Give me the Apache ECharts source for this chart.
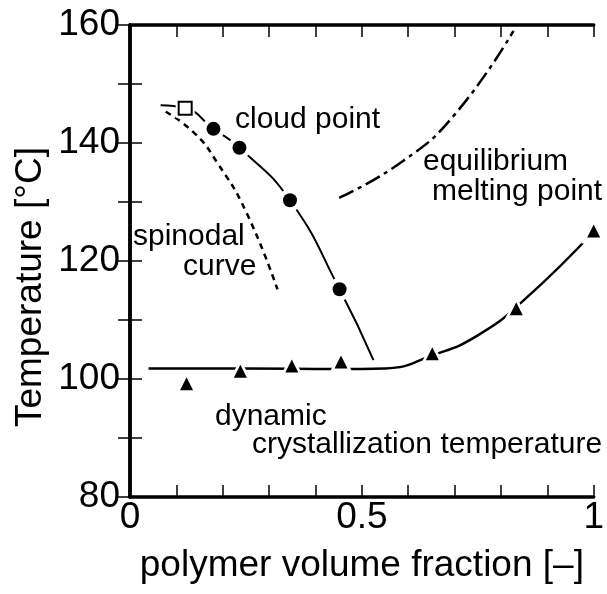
<!DOCTYPE html>
<html>
<head>
<meta charset="utf-8">
<script src="https://cdn.jsdelivr.net/npm/echarts@6/dist/echarts.min.js"></script>
<style>
html,body{margin:0;padding:0;background:#fff;}
#chart{width:607px;height:594px;}
</style>
</head>
<body>
<div id="chart"></div>
<script>
// ---- data ----
const squareX = [0.119];
const squareY = [145.9];
const cloudX = [0.18, 0.236, 0.345, 0.452];
const cloudY = [142.4, 139.2, 130.3, 115.2];
const cloudCurveX = [0.066, 0.119, 0.18, 0.236, 0.345, 0.452, 0.525];
const cloudCurveY = [146.4, 145.9, 142.4, 139.2, 130.3, 115.2, 103.2];
const spinodalX = [0.077, 0.14, 0.187, 0.25, 0.318];
const spinodalY = [145.3, 141.6, 136.8, 128.4, 115.2];
const meltingX = [0.451, 0.588, 0.701, 0.827];
const meltingY = [130.7, 136.9, 144.9, 159.0];
const crystX = [0.122, 0.238, 0.349, 0.455, 0.652, 0.833, 1.0];
const crystY = [99.2, 101.3, 102.2, 102.9, 104.3, 111.9, 125.1];
const crystCurveX = [0.04, 0.25, 0.45, 0.55, 0.652, 0.75, 0.85, 1.0];
const crystCurveY = [101.8, 101.8, 101.7, 101.8, 104.0, 107.4, 113.4, 125.0];
const xTickLabels = ['0', '0.5', '1'];
const yTickLabels = ['80', '100', '120', '140', '160'];
const xTitle = 'polymer volume fraction [\u2013]';
const yTitle = 'Temperature [\u00B0C]';

const pairs = (xs, ys) => xs.map((x, i) => [x, ys[i]]);
const FONT = "'Liberation Sans', Arial, Helvetica, sans-serif";

const chart = echarts.init(document.getElementById('chart'), null, {renderer: 'canvas'});

function fmtX(v) {
  const s = String(Math.round(v * 10) / 10);
  return xTickLabels.indexOf(s) >= 0 ? s : '';
}
function fmtY(v) {
  const s = String(Math.round(v));
  return yTickLabels.indexOf(s) >= 0 ? s : '';
}

const axisLine = {show: true, lineStyle: {color: '#000', width: 3.5}};
const axisTick = {show: true, inside: true, length: 12, lineStyle: {color: '#000', width: 1.5}};

function textEl(t, x, y, size) {
  return {type: 'text', x: x, y: y, style: {text: t, font: size + 'px ' + FONT, fill: '#000', align: 'left', verticalAlign: 'middle'}};
}

const option = {
  animation: false,
  backgroundColor: '#fff',
  grid: {left: 130, right: 3, top: 25, bottom: 97},
  xAxis: [
    {type: 'value', min: 0, max: 1, interval: 0.1, position: 'bottom',
     axisLine: axisLine, axisTick: axisTick, splitLine: {show: false},
     axisLabel: {formatter: fmtX, fontSize: 37, fontFamily: FONT, color: '#000', margin: 2, hideOverlap: false, showMinLabel: true, showMaxLabel: true},
     name: xTitle, nameLocation: 'middle', nameGap: 50,
     nameTextStyle: {fontSize: 37, fontFamily: FONT, color: '#000'}},
    {type: 'value', min: 0, max: 1, interval: 0.1, position: 'top',
     axisLine: axisLine, axisTick: axisTick, splitLine: {show: false}, axisLabel: {show: false}}
  ],
  yAxis: [
    {type: 'value', min: 80, max: 160, interval: 10, position: 'left',
     axisLine: axisLine, axisTick: axisTick, splitLine: {show: false},
     axisLabel: {formatter: fmtY, fontSize: 37, fontFamily: FONT, color: '#000', margin: 10, hideOverlap: false, showMinLabel: true, showMaxLabel: true}},
    {type: 'value', min: 80, max: 160, interval: 10, position: 'right',
     axisLine: axisLine, axisTick: axisTick, splitLine: {show: false}, axisLabel: {show: false}}
  ],
  series: [
    {type: 'line', z: 2, data: pairs(cloudCurveX, cloudCurveY), smooth: 0.5, showSymbol: false,
     lineStyle: {color: '#000', width: 2}},
    {type: 'line', z: 2, data: pairs(spinodalX, spinodalY), smooth: 0.5, showSymbol: false,
     lineStyle: {color: '#000', width: 2.5, type: [6, 5]}},
    {type: 'line', z: 2, data: pairs(meltingX, meltingY), smooth: 0.5, showSymbol: false,
     lineStyle: {color: '#000', width: 2.5, type: [16, 5, 4, 5]}},
    {type: 'line', z: 2, data: pairs(crystCurveX, crystCurveY), smooth: 0.5, showSymbol: false,
     lineStyle: {color: '#000', width: 2.5}},
    // white halos to break the lines around markers
    {type: 'scatter', z: 5, data: pairs(cloudX, cloudY), symbol: 'circle', symbolSize: 23, itemStyle: {color: '#ffffff', opacity: 1}},
    {type: 'scatter', z: 5, data: pairs(squareX, squareY), symbol: 'rect', symbolSize: 19, itemStyle: {color: '#ffffff', opacity: 1}},
    {type: 'scatter', z: 5, data: pairs(crystX, crystY), symbol: 'triangle', symbolSize: 25, itemStyle: {color: '#ffffff', opacity: 1}},
    // markers
    {type: 'scatter', z: 6, data: pairs(cloudX, cloudY), symbol: 'circle', symbolSize: 14, itemStyle: {color: '#000', opacity: 1}},
    {type: 'scatter', z: 6, data: pairs(squareX, squareY), symbol: 'rect', symbolSize: 13, itemStyle: {color: '#fff', borderColor: '#000', borderWidth: 2, opacity: 1}},
    {type: 'scatter', z: 6, data: pairs(crystX, crystY), symbol: 'triangle', symbolSize: 13, itemStyle: {color: '#000', opacity: 1}}
  ],
  graphic: [
    textEl('cloud point', 235, 120, 30),
    textEl('equilibrium', 423, 162, 30),
    textEl('melting point', 432, 192, 30),
    textEl('spinodal', 133, 237, 30),
    textEl('curve', 183, 267, 30),
    textEl('dynamic', 215, 417, 30),
    textEl('crystallization temperature', 252, 445, 30),
    {type: 'text', x: 31, y: 287, rotation: Math.PI / 2,
     style: {text: yTitle, font: '37px ' + FONT, fill: '#000', align: 'center', verticalAlign: 'middle'}}
  ]
};
chart.setOption(option);
</script>
</body>
</html>
